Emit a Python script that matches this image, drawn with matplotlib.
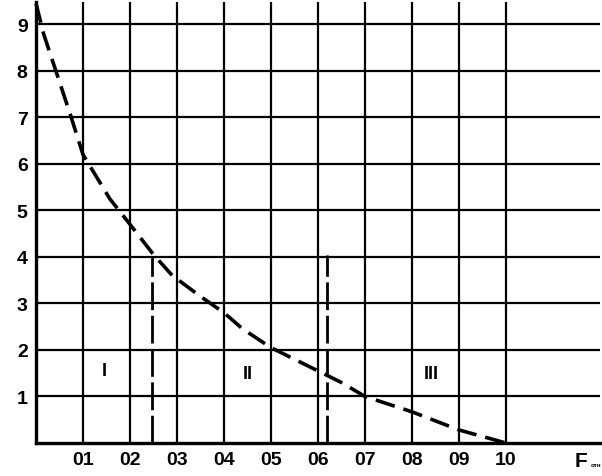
import matplotlib
matplotlib.use("Agg")
import matplotlib.pyplot as plt

# values
x_ticks = [0.1, 0.2, 0.3, 0.4, 0.5, 0.6, 0.7, 0.8, 0.9, 1.0]
x_labels = ["01", "02", "03", "04", "05", "06", "07", "08", "09", "10"]
y_ticks = [1, 2, 3, 4, 5, 6, 7, 8, 9]

curve_x = [0.0, 0.016, 0.036, 0.074, 0.1, 0.157, 0.2, 0.25, 0.29, 0.35,
           0.4, 0.44, 0.5, 0.6, 0.65, 0.7, 0.8, 0.9, 1.0]
curve_y = [9.45, 8.8, 8.19, 7.03, 6.2, 5.25, 4.7, 4.05, 3.6, 3.15,
           2.8, 2.45, 2.05, 1.55, 1.3, 1.0, 0.67, 0.28, 0.0]

bounds_x = [0.247, 0.62]
bounds_top = [4.0, 4.05]

zones = ["I", "II", "III"]
zones_x = [0.145, 0.45, 0.84]
zones_y = [1.55, 1.5, 1.5]

plt.rcParams["font.family"] = ["Liberation Sans", "DejaVu Sans"]
plt.rcParams["font.weight"] = "bold"

fig = plt.figure(figsize=(6.02, 4.77), dpi=100)
ax = fig.add_axes([36 / 602, 33 / 477, 564 / 602, 441 / 477])

ax.set_xlim(0, 1.2)
ax.set_ylim(0, 9.48)

# grid
for xv in x_ticks:
    ax.axvline(xv, color="black", lw=1.6, zorder=1)
for yv in y_ticks:
    ax.axhline(yv, color="black", lw=1.6, zorder=1)

ax.plot(curve_x, curve_y, color="black", lw=2.6,
        linestyle=(0, (5.5, 2.5)), zorder=3, clip_on=False)

for bx, bt in zip(bounds_x, bounds_top):
    ax.plot([bx, bx], [0, bt], color="black", lw=2.0,
            linestyle=(0, (10, 2)), zorder=2)

for z, zx, zy in zip(zones, zones_x, zones_y):
    ax.text(zx, zy, z, ha="center", va="center", fontsize=13,
            fontweight="bold")

ax.set_xticks(x_ticks)
ax.set_xticklabels(x_labels, fontsize=14, fontweight="bold")
ax.set_yticks(y_ticks)
ax.set_yticklabels([str(v) for v in y_ticks], fontsize=14, fontweight="bold")
ax.tick_params(length=0, pad=6)

for s in ["top", "right"]:
    ax.spines[s].set_visible(False)
ax.spines["left"].set_linewidth(2.4)
ax.spines["bottom"].set_linewidth(2.4)

ax.text(1.145, -0.18, "F", ha="left", va="top", fontsize=15,
        fontweight="bold")
ax.text(1.18, -0.4, "отн", ha="left", va="top", fontsize=4.5,
        fontweight="bold")

fig.savefig("out.png", dpi=100)
